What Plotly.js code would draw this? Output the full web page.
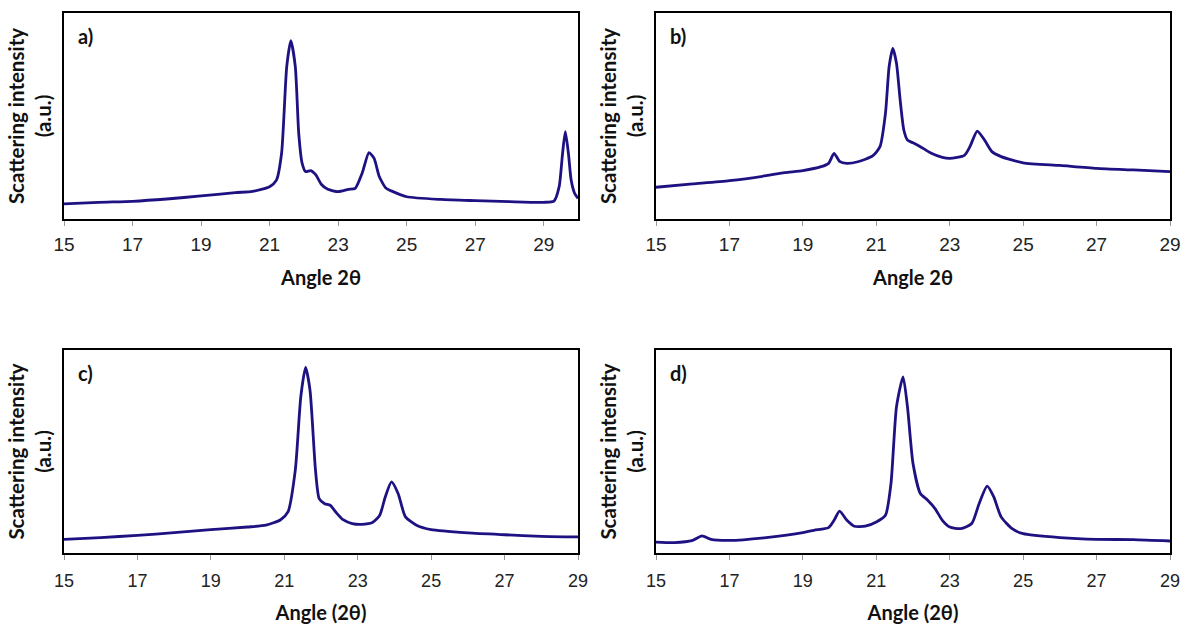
<!DOCTYPE html>
<html>
<head>
<meta charset="utf-8">
<script src="https://cdn.plot.ly/plotly-3.0.1.min.js"></script>
<style>html,body{margin:0;padding:0;background:#fff;}#chart{width:1185px;height:624px;}</style>
</head>
<body>
<div id="chart"></div>
<script>
// Panel a
const angleA = [15,16,17,18,19,20,20.5,21,21.2,21.35,21.5,21.62,21.75,21.85,21.95,22.05,22.2,22.35,22.5,22.7,23.0,23.3,23.5,23.7,23.9,24.05,24.2,24.4,24.6,25,26,27,28,29,29.3,29.45,29.55,29.63,29.72,29.8,29.9,30];
const intensityA = [7.3,8.1,8.6,9.7,11.2,12.8,13.4,15.7,18.9,31.9,74,86.6,74,41.6,27,23,23.5,21.4,17,14.4,13.3,14.4,14.9,22.2,32.2,29.4,20.6,14.9,13.3,10.8,9.5,8.9,8.4,8.1,8.7,15.7,31.9,42.4,31.9,18.9,12.5,10];
// Panel b
const angleB = [15,16,17,18,18.5,19,19.5,19.7,19.85,20.0,20.2,20.5,20.9,21.1,21.25,21.35,21.45,21.55,21.65,21.75,21.85,22.0,22.2,22.5,22.8,23.0,23.4,23.55,23.75,23.95,24.15,24.4,25,26,27,28,29];
const intensityB = [15.4,17,18.6,21,22.5,23.5,25.4,27,31.9,28,27,27.8,30.6,35.1,51.3,74,82.8,75.6,57.8,43.2,38.3,37,35.1,31.9,29.9,29.4,30.9,35.1,42.7,38.3,32.7,30.3,27.3,26,24.6,23.8,23];
// Panel c
const angleC = [15,16,17,18,19,20,20.5,20.9,21.1,21.3,21.45,21.58,21.7,21.85,21.95,22.1,22.25,22.4,22.6,22.85,23.1,23.4,23.6,23.75,23.92,24.1,24.3,24.6,25,26,27,28,29];
const intensityC = [6.7,7.6,8.7,10,11.5,12.8,13.7,16.4,20.2,40.8,77,91.4,80.3,40.8,26.8,24.3,23.5,20.2,16.4,14.5,14.1,15,18.6,27.6,35,29.3,17.8,13.7,11.5,9.9,9,8.2,7.9];
// Panel d
const angleD = [15,15.5,16,16.25,16.5,17,18,19,19.3,19.7,19.85,20.0,20.2,20.4,20.7,21.0,21.25,21.4,21.55,21.73,21.85,22.0,22.2,22.4,22.6,22.8,23.0,23.3,23.6,23.8,24.02,24.2,24.4,24.7,25,26,27,28,29];
const intensityD = [5.4,5.1,6.2,8.4,6.7,6.2,7.6,10,11.2,12.5,16.1,20.6,16.1,13.2,13.2,15.3,18.6,34.2,72,86.8,71.9,44.1,29.3,26,21.9,16.1,12.8,12,14.5,24.3,32.9,27.6,17.8,12,9.5,7.6,6.7,6.6,5.9];

const panelLabels = ['a)','b)','c)','d)'];
const xTitles = ['Angle 2θ','Angle 2θ','Angle (2θ)','Angle (2θ)'];
const yTitle = 'Scattering intensity<br>(a.u.)';
const xRanges = [[15,30],[15,29],[15,29],[15,29]];
const tickVals = [15,17,19,21,23,25,27,29];

const W = 1185, H = 624;
const boxes = [ // left, right, top, bottom in px
  [64,578,13,219],[656,1170,13,219],[64,578,350,553],[656,1170,350,553]
];
const tickSizes = [19,19,18,18];
const tickStandoff = [2,2,5,5];
const titleStandoff = [17,17,18,18];
const lineColor = '#1e1282';

const series = [[angleA,intensityA],[angleB,intensityB],[angleC,intensityC],[angleD,intensityD]];
const data = series.map((s,i)=>({
  x:s[0], y:s[1], type:'scatter', mode:'lines',
  line:{color:lineColor,width:2.8,shape:'spline',smoothing:0.6},
  xaxis: i===0?'x':'x'+(i+1), yaxis: i===0?'y':'y'+(i+1), hoverinfo:'skip'
}));

const layout = {
  width:W, height:H, margin:{l:0,r:0,t:0,b:0}, paper_bgcolor:'#fff', plot_bgcolor:'#fff',
  showlegend:false, annotations:[]
};
boxes.forEach((b,i)=>{
  const sx = i===0?'':String(i+1);
  layout['xaxis'+sx] = {
    domain:[b[0]/W,b[1]/W], anchor:'y'+sx, range:xRanges[i], tickvals:tickVals,
    showgrid:false, zeroline:false, showline:true, linecolor:'#000', linewidth:2, mirror:true,
    ticks:'outside', ticklen:5, tickwidth:1, tickcolor:'#999', ticklabelstandoff:tickStandoff[i],
    tickfont:{family:'Liberation Sans, Arial, sans-serif', size:tickSizes[i], color:'#222'},
    title:{text:'<b>'+xTitles[i]+'</b>', standoff:titleStandoff[i], font:{family:'Lato, sans-serif', size:20, color:'#111'}},
    automargin:false, fixedrange:true
  };
  layout['yaxis'+sx] = {
    domain:[1-b[3]/H,1-b[2]/H], anchor:'x'+sx, range:[0,100],
    showgrid:false, zeroline:false, showline:true, linecolor:'#000', linewidth:2, mirror:true,
    showticklabels:false, ticks:'',
    title:{text:'<b>'+yTitle+'</b>', standoff:5, font:{family:'Lato, sans-serif', size:20.5, color:'#111'}},
    automargin:false, fixedrange:true
  };
  layout.annotations.push({
    text:'<b>'+panelLabels[i]+'</b>', xref:'paper', yref:'paper',
    x:(b[0]+12)/W, y:1-(b[2]+23)/H, xanchor:'left', yanchor:'middle', showarrow:false,
    font:{family:'Lato, sans-serif', size:20, color:'#111'}
  });
});
Plotly.newPlot('chart', data, layout, {staticPlot:true});
</script>
</body>
</html>
